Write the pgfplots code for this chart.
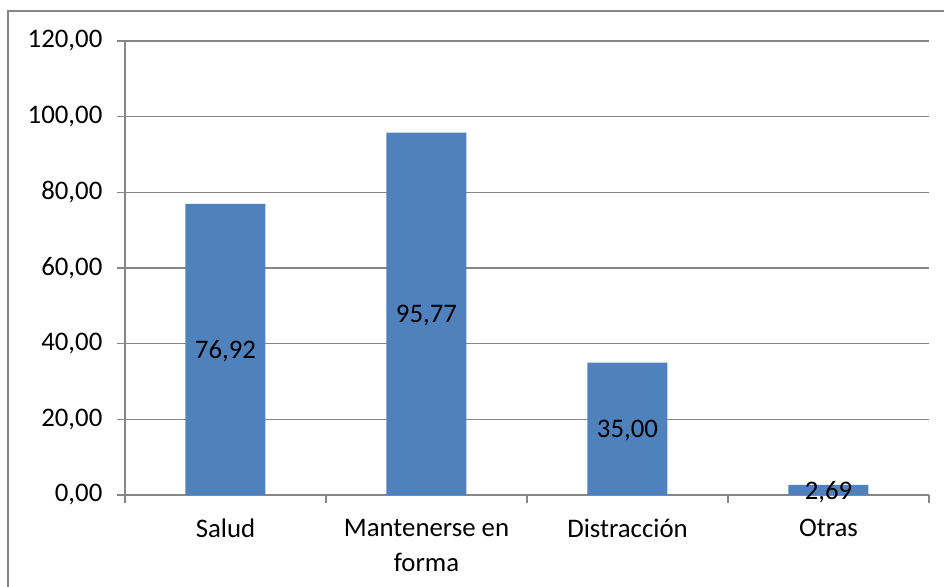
\documentclass[border=0pt]{standalone}
\usepackage{pgfplots}
\pgfplotsset{compat=1.18}
\usepackage{pgfplotstable}
\usepackage{fontspec}
\setmainfont{Carlito}
\definecolor{barblue}{HTML}{4F81BD}
\definecolor{gridgray}{HTML}{868686}
\pgfplotstableread{
x y lbl
1 76.92 76,92
2 95.77 95,77
3 35.00 35,00
4 2.69 2,69
}\datatable
\begin{document}
\begin{tikzpicture}
\path[use as bounding box] (0,0) rectangle (472pt,293.5pt);
\draw[gridgray, line width=0.6pt] (4pt,0) -- (4pt,288pt) -- (472pt,288pt);
\begin{axis}[
  at={(62.5pt,46pt)}, anchor=south west,
  scale only axis, width=402pt, height=227pt,
  xmin=0.5, xmax=4.5, ymin=0, ymax=120,
  axis x line*=bottom, axis y line*=left,
  axis line style={gridgray, line width=0.6pt, -},
  ytick={0,20,...,120}, ymajorgrids,
  grid style={gridgray, line width=0.6pt},
  xtick={1,2,3,4},
  xticklabels={Salud,{Mantenerse en\\forma},Distracción,Otras},
  xticklabel style={align=center, font=\fontsize{13.4}{17.5}\selectfont, yshift=-4.5pt, text depth=0pt},
  minor xtick={0.5,1.5,2.5,3.5,4.5},
  tick align=outside,
  tick style={gridgray, line width=0.6pt},
  major tick length=4pt, minor tick length=4pt,
  major x tick style={draw=none},
  /pgf/number format/assume math mode=true,
  yticklabel style={font=\fontsize{13.4}{15.6}\selectfont, xshift=-3.8pt,
    /pgf/number format/fixed, /pgf/number format/fixed zerofill,
    /pgf/number format/precision=2, /pgf/number format/use comma},
]
\addplot[ybar, bar width=40pt, bar shift=0pt, fill=barblue, draw=none]
  table[x=x, y=y] {\datatable};
\addplot[draw=none, mark=none, nodes near coords, point meta=explicit symbolic,
  every node near coord/.append style={anchor=center, yshift=-1pt, font=\fontsize{13.4}{15.6}\selectfont, text=black}]
  table[x=x, y expr=\thisrow{y}/2, meta=lbl] {\datatable};
\end{axis}
\end{tikzpicture}
\end{document}
